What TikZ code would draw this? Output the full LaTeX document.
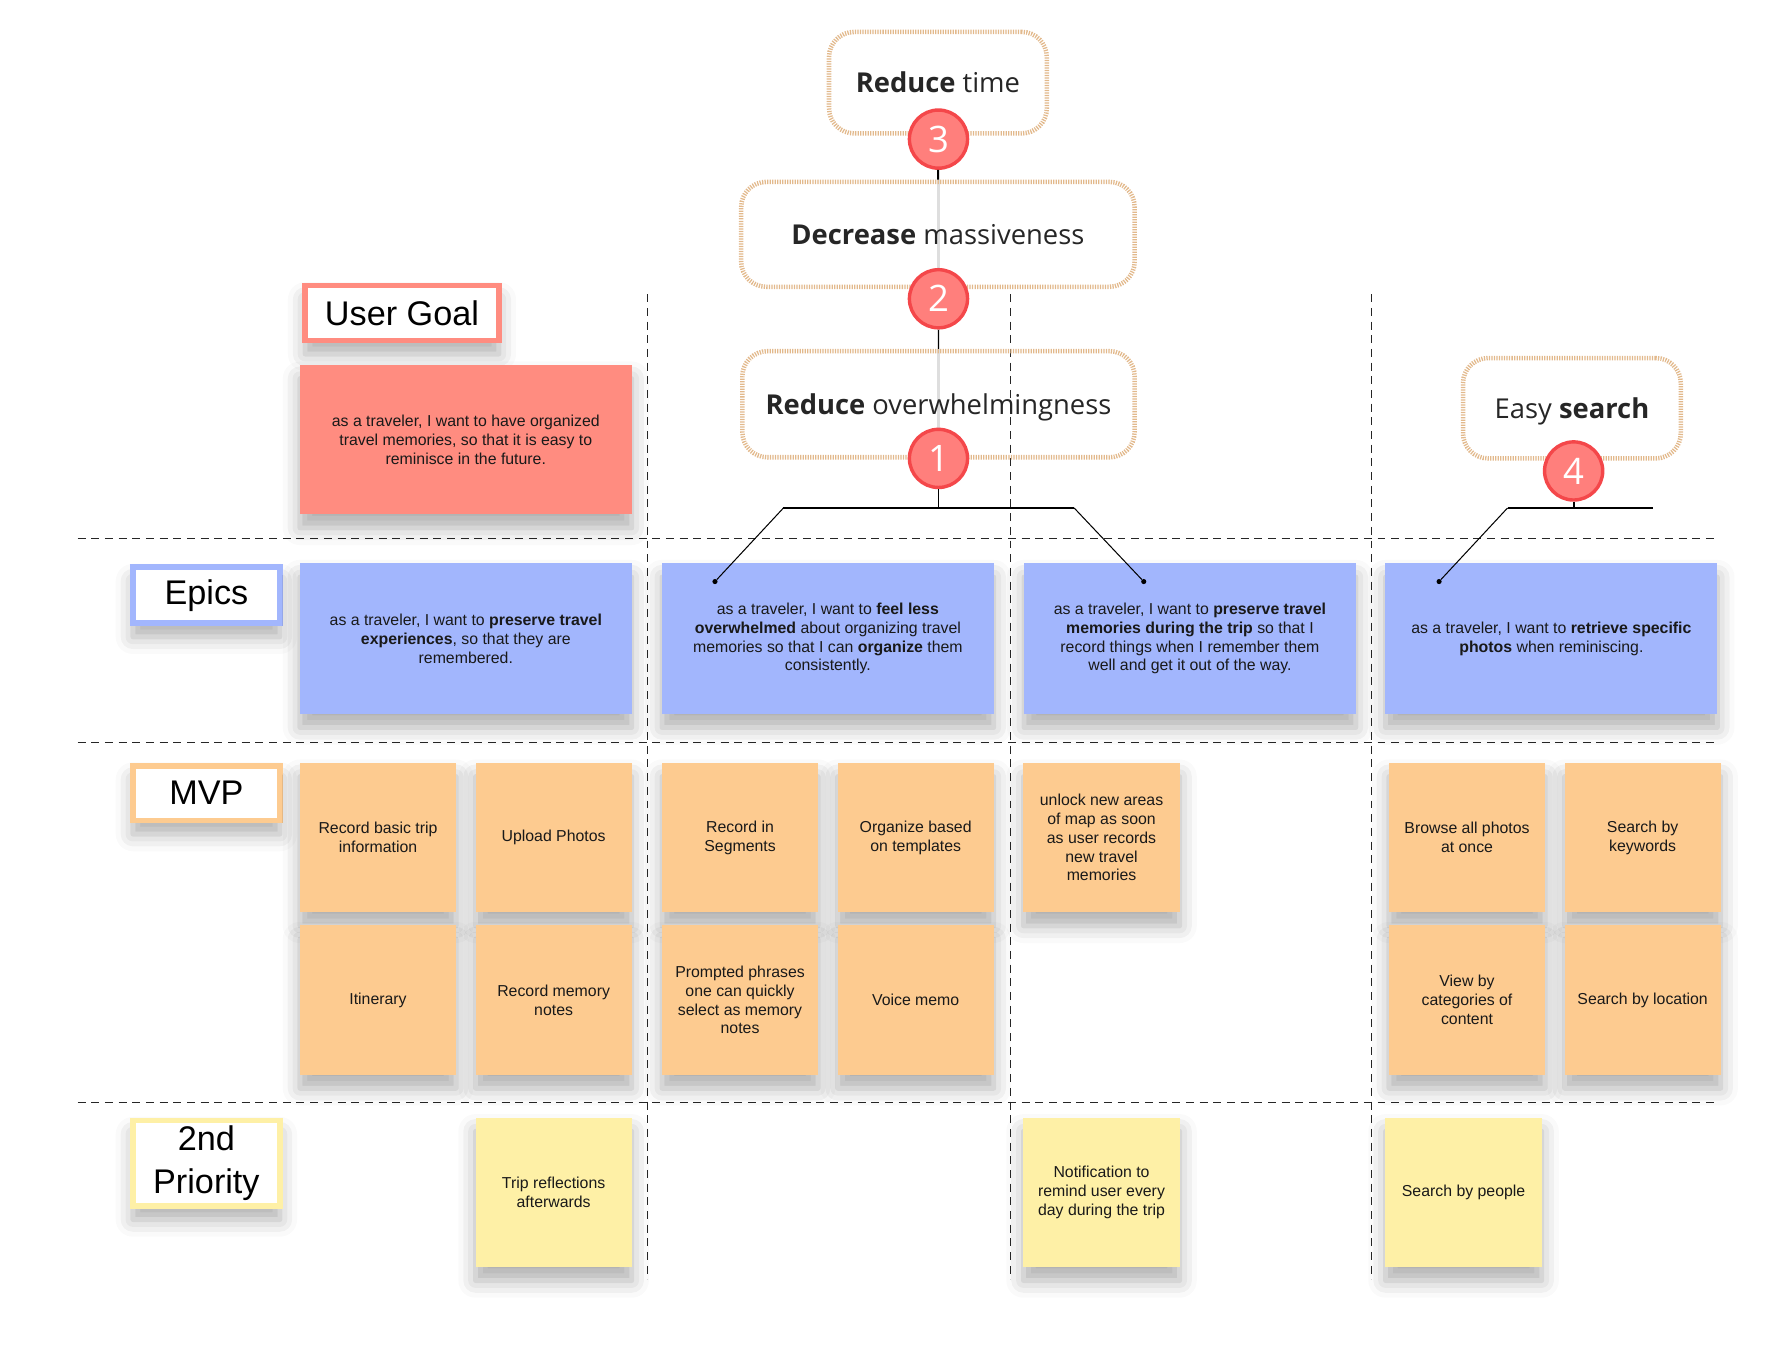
\documentclass[tikz,border=0pt]{standalone}
\usepackage{fontspec}
\setmainfont{Liberation Sans}
\newfontfamily\goalfont{Open Sans}
\usetikzlibrary{positioning,shadows.blur,backgrounds}

\definecolor{goalred}{HTML}{FF8C80}
\definecolor{epicblue}{HTML}{A2B6FD}
\definecolor{mvporange}{HTML}{FDCB90}
\definecolor{prioyellow}{HTML}{FEF0A6}
\definecolor{dotborder}{HTML}{E2B98C}
\definecolor{badgefill}{HTML}{FF7F7C}
\definecolor{badgeline}{HTML}{F4474A}

\begin{document}
\begin{tikzpicture}[x=1pt,y=-1pt,node distance=11pt,
    softshadow/.style={blur shadow={shadow xshift=0pt,shadow yshift=-12pt,
        shadow blur radius=15pt,shadow opacity=32}},
    sticky/.style={softshadow,inner sep=0pt,align=center,text=black!90,
        font=\fontsize{13.9}{16.5}\selectfont},
    wish/.style={sticky,fill=goalred,minimum width=291pt,minimum height=131pt},
    epic/.style={sticky,fill=epicblue,minimum width=291pt,minimum height=132pt},
    mvp/.style={sticky,fill=mvporange,minimum width=137pt,minimum height=131pt},
    later/.style={sticky,fill=prioyellow,minimum width=137pt,minimum height=131pt},
    lanelabel/.style={softshadow,draw=#1,line width=5pt,fill=white,inner sep=0pt,
        align=center,font=\fontsize{30}{37}\selectfont},
    goal/.style={draw=dotborder,line width=4pt,dash pattern=on 1.1pt off 1.1pt,
        rounded corners=22pt,inner sep=0pt,text=black!85,text height=18pt,text depth=0pt,
        font=\goalfont\fontsize{24}{28}\selectfont},
    badge/.style={circle,draw=badgeline,line width=3pt,fill=badgefill,
        minimum size=51pt,inner sep=0pt,text=white,
        font=\goalfont\fontsize{32}{32}\selectfont},
    lane/.style={dash pattern=on 7pt off 5pt,line width=1.2pt,black!85},
    link/.style={line width=1.6pt},
    dot/.style={circle,fill,inner sep=0pt,minimum size=4.5pt}
                   ]
    \useasboundingbox (0,0) rectangle (1568,1185);

    % lanes
    \draw[lane] (68,472) -- (1507,472);
    \draw[lane] (68,651) -- (1507,651);
    \draw[lane] (68,967) -- (1507,967);
    \draw[lane] (568,258) -- (568,1122);
    \draw[lane] (886,258) -- (886,1122);
    \draw[lane] (1203,258) -- (1203,1122);

    % row labels
    \node[lanelabel=goalred,minimum width=170pt,minimum height=48pt](ug) at (352.5,274.5) {User Goal};
    \node[lanelabel=epicblue,minimum width=129pt,minimum height=49pt](ep) at (181,522) {Epics};
    \node[lanelabel=mvporange,minimum width=129pt,minimum height=48pt](mv) at (181,695.5) {MVP};
    \node[lanelabel=prioyellow,minimum width=129pt,minimum height=75pt](pr) at (181,1020) {2nd\\Priority};

    % user goal
    \node[wish](w1) at (408.5,385.5) {as a traveler, I want to have organized\\travel memories, so that it is easy to\\reminisce in the future.};

    % epics
    \node[epic](e1) at (408.5,560) {as a traveler, I want to \textbf{preserve travel}\\\textbf{experiences}, so that they are\\remembered.};
    \node[epic](e2) at (726,560) {as a traveler, I want to \textbf{feel less}\\\textbf{overwhelmed} about organizing travel\\memories so that I can \textbf{organize} them\\consistently.};
    \node[epic](e3) at (1043.5,560) {as a traveler, I want to \textbf{preserve travel}\\\textbf{memories during the trip} so that I\\record things when I remember them\\well and get it out of the way.};
    \node[epic](e4) at (1360.5,560) {as a traveler, I want to \textbf{retrieve specific}\\\textbf{photos} when reminiscing.};

    % mvp
    \node[mvp](m1) at (331.5,734.5) {Record basic trip\\information};
    \node[mvp](m2) at (485.5,734.5) {Upload Photos};
    \node[mvp](m3) at (649,734.5) {Record in\\Segments};
    \node[mvp](m4) at (803,734.5) {Organize based\\on templates};
    \node[mvp](m5) at (966,734.5) {unlock new areas\\of map as soon\\as user records\\new travel\\memories};
    \node[mvp](m6) at (1286.5,734.5) {Browse all photos\\at once};
    \node[mvp](m7) at (1440.5,734.5) {Search by\\keywords};
    \node[mvp,below=of m1](m8) {Itinerary};
    \node[mvp,below=of m2](m9) {Record memory\\notes};
    \node[mvp,below=of m3](m10) {Prompted phrases\\one can quickly\\select as memory\\notes};
    \node[mvp,below=of m4](m11) {Voice memo};
    \node[mvp,below=of m6](m12) {View by\\categories of\\content};
    \node[mvp,below=of m7](m13) {Search by location};

    % 2nd priority
    \node[later](p1) at (485.5,1045.5) {Trip reflections\\afterwards};
    \node[later](p2) at (966,1045.5) {Notification to\\remind user every\\day during the trip};
    \node[later](p3) at (1283.5,1045.5) {Search by people};

    % goals
    \node[goal,minimum width=191pt,minimum height=89pt](g3) at (822.5,72.5) {\textbf{Reduce} time};
    \node[goal,minimum width=345pt,minimum height=92pt](g2) at (822.5,205.5) {\textbf{Decrease} massiveness};
    \node[goal,minimum width=344pt,minimum height=93pt](g1) at (823,354.5) {\textbf{Reduce} overwhelmingness};
    \node[goal,minimum width=191pt,minimum height=88pt](g4) at (1378.5,358) {Easy \textbf{search}};

    \node[badge](c3) at (823,122) {3};
    \node[badge](c2) at (823,262) {2};
    \node[badge](c1) at (823,402) {1};
    \node[badge](c4) at (1380,413) {4};

    \node[dot](d2) at (627,510) {};
    \node[dot](d3) at (1003,510) {};
    \node[dot](d4) at (1262,510) {};
    \coordinate (j1) at (823,445.5);
    \coordinate (jl) at (687,445.5);
    \coordinate (jr) at (942,445.5);
    \coordinate (j4) at (1380,445.5);
    \coordinate (jl4) at (1322,445.5);
    \coordinate (jr4) at (1450,445.5);

    \begin{scope}[on background layer]
    \draw[black!13,line width=2pt] (c3) -- (c1);
    \end{scope}
    \draw[link] (c3) -- (g2.north);
    \draw[link] (c2) -- (g1.north);
    \draw[link] (c1) -- (j1);
    \draw[line width=1.2pt] (jl) -- (jr);
    \draw[line width=0.9pt] (jl) -- (d2) (jr) -- (d3);
    \draw[link] (c4) -- (j4);
    \draw[line width=1.2pt] (jl4) -- (jr4);
    \draw[line width=0.9pt] (jl4) -- (d4);

\end{tikzpicture}
\end{document}
